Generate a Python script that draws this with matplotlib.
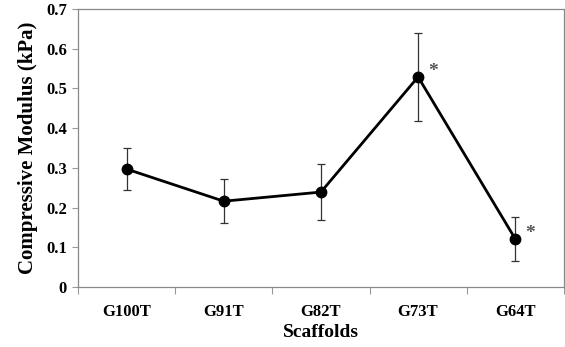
import matplotlib
matplotlib.use('Agg')
from matplotlib import pyplot as plt

# Dane
scaffolds = ['G100T', 'G91T', 'G82T', 'G73T', 'G64T']
modulus = [0.297, 0.216, 0.239, 0.529, 0.121]
errors = [0.054, 0.056, 0.071, 0.110, 0.055]
significant = [False, False, False, True, True]

plt.rcParams['font.family'] = ['Liberation Serif', 'DejaVu Serif']
plt.rcParams['font.weight'] = 'bold'

fig = plt.figure(figsize=(5.65, 3.47), dpi=100)
ax = fig.add_axes([0.138, 0.173, 0.860, 0.801])

x = [i + 0.5 for i in range(len(scaffolds))]
ax.errorbar(x, modulus, yerr=errors, color='black', lw=2, marker='o', ms=7.5,
            ecolor='#333333', elinewidth=0.9, capsize=3, capthick=0.9)

# Gwiazdki istotności
for xi, yi, s in zip(x, modulus, significant):
    if s:
        ax.annotate('*', (xi, yi), xytext=(7, 1), textcoords='offset points',
                    fontsize=14, color='#555555', fontweight='bold')

ax.set_xlim(0, len(scaffolds))
ax.set_ylim(0, 0.7)
ax.set_yticks([0, 0.1, 0.2, 0.3, 0.4, 0.5, 0.6, 0.7])
ax.set_yticklabels(['0', '0.1', '0.2', '0.3', '0.4', '0.5', '0.6', '0.7'])
ax.set_xticks(range(len(scaffolds) + 1))
ax.set_xticklabels([])
ax.set_xticks(x, minor=True)
ax.set_xticklabels(scaffolds, minor=True)
ax.tick_params(axis='both', which='both', labelsize=12)
ax.tick_params(axis='x', which='minor', length=0, pad=12)
ax.tick_params(axis='x', which='major', length=5, color='#999999')
ax.tick_params(axis='y', length=4, color='#999999', pad=4)

for sp in ax.spines.values():
    sp.set_color('#888888')
    sp.set_linewidth(0.9)

ax.set_xlabel('Scaffolds', fontsize=14, fontweight='bold', labelpad=3)
ax.set_ylabel('Compressive Modulus (kPa)', fontsize=15, fontweight='bold', labelpad=6)

fig.savefig('out.png', dpi=100)
